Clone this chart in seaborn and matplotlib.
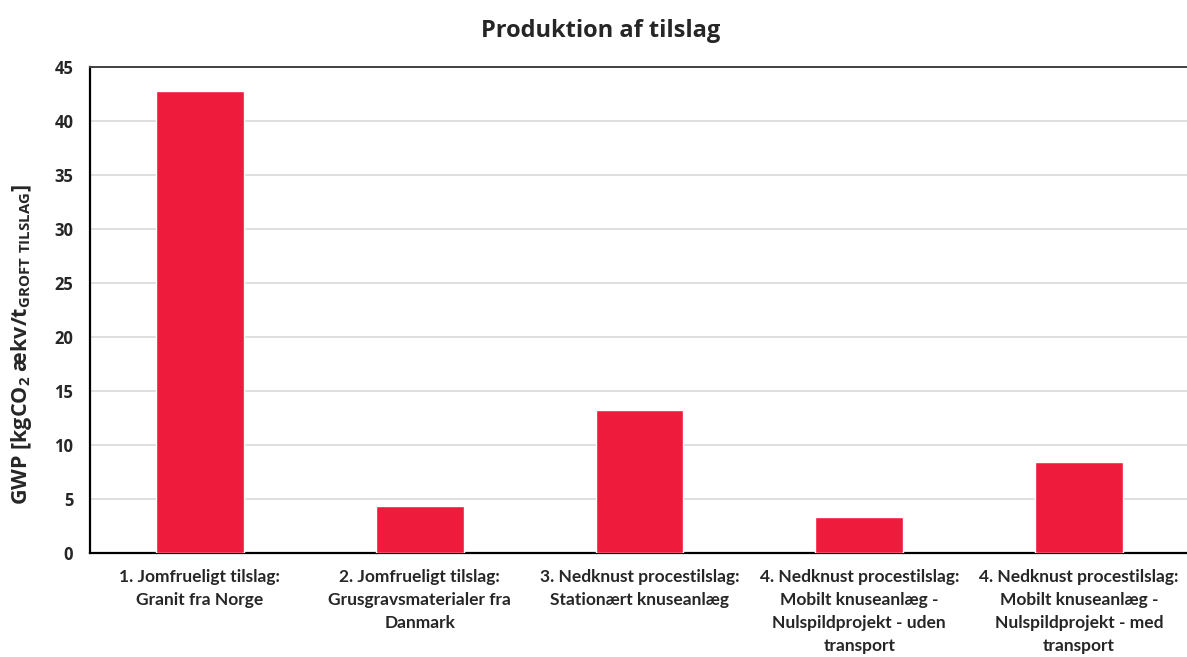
import matplotlib
matplotlib.use("Agg")
import matplotlib.pyplot as plt
import seaborn as sns
import pandas as pd

categories = [
    "1. Jomfrueligt tilslag:\nGranit fra Norge",
    "2. Jomfrueligt tilslag:\nGrusgravsmaterialer fra\nDanmark",
    "3. Nedknust procestilslag:\nStationært knuseanlæg",
    "4. Nedknust procestilslag:\nMobilt knuseanlæg -\nNulspildprojekt - uden\ntransport",
    "4. Nedknust procestilslag:\nMobilt knuseanlæg -\nNulspildprojekt - med\ntransport",
]
gwp = [42.8, 4.35, 13.25, 3.35, 8.5]
yticks = [0, 5, 10, 15, 20, 25, 30, 35, 40, 45]

sns.set_theme(style="white")
plt.rcParams["font.family"] = ["Lato", "DejaVu Sans"]
plt.rcParams["mathtext.default"] = "regular"

df = pd.DataFrame({"kategori": categories, "gwp": gwp})

fig = plt.figure(figsize=(11.87, 6.57), dpi=100)
ax = fig.add_axes([90 / 1187, 103.7 / 657, 1099 / 1187, 485.8 / 657])

sns.barplot(data=df, x="kategori", y="gwp", color="#EE1B3C", saturation=1,
            width=0.4, ax=ax, zorder=3)

ax.set_xlim(-0.5, 4.5)
ax.set_ylim(0, 45)
ax.set_yticks(yticks)
ax.set_yticklabels([str(v) for v in yticks], fontsize=12, fontweight="bold",
                   family=["Open Sans", "DejaVu Sans"])
ax.tick_params(axis="y", length=0, pad=12)
ax.tick_params(axis="x", length=0, pad=11)
for lbl in ax.get_xticklabels():
    lbl.set_fontsize(12.5)
    lbl.set_fontweight("bold")
    lbl.set_linespacing(1.56)
    lbl.set_verticalalignment("top")

ax.yaxis.grid(True, color="#d9d9d9", linewidth=1.2, zorder=0)
ax.xaxis.grid(False)
for side in ["left", "bottom"]:
    ax.spines[side].set_color("black")
    ax.spines[side].set_linewidth(1.6)
ax.spines["top"].set_color("#404040")
ax.spines["top"].set_linewidth(1.4)
ax.spines["right"].set_visible(False)

ax.set_xlabel("")
ax.set_ylabel(r"GWP [kgCO$_2$ ækv/t$_{GROFT\ TILSLAG}$]", fontsize=15.5,
              fontweight="bold", family=["Open Sans", "DejaVu Sans"])
ax.yaxis.set_label_coords(-0.051, 0.43)

fig.text(0.506, 0.953, "Produktion af tilslag", ha="center", va="center",
         fontsize=17, fontweight="bold", family=["Open Sans", "DejaVu Sans"])

fig.savefig("out.png", dpi=100)
